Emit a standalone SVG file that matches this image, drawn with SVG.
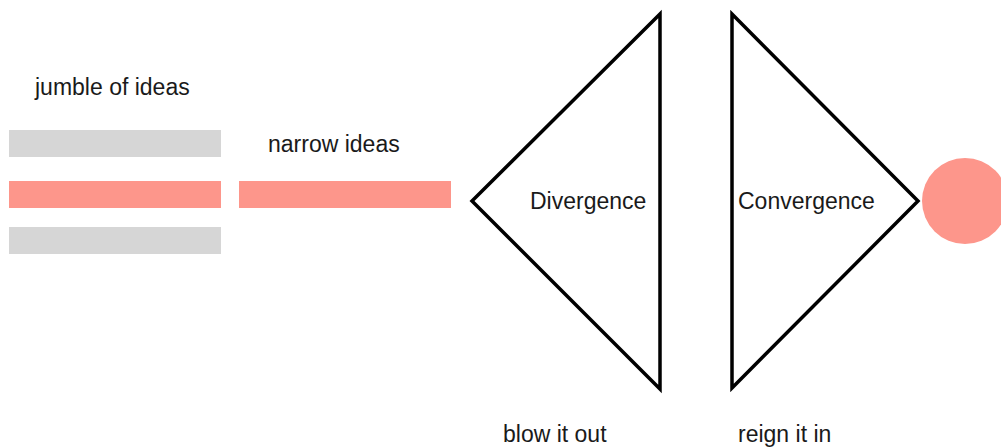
<svg xmlns="http://www.w3.org/2000/svg" width="1001" height="448" viewBox="0 0 1001 448">
<style>
text{font-family:"Liberation Sans",Arial,sans-serif;font-size:23px;fill:#1a1a1a}
.gray{fill:#d6d6d6}
.red{fill:#fd968b}
.tri{fill:none;stroke:#000;stroke-width:3.5;stroke-linejoin:miter}
</style>
<rect width="1001" height="448" fill="#fff"/>
<g id="jumble">
<text x="35" y="95">jumble of ideas</text>
<rect class="gray" x="9" y="130" width="212" height="27"/>
<rect class="red" x="9" y="181" width="212" height="27"/>
<rect class="gray" x="9" y="227" width="212" height="27"/>
</g>
<g id="narrow">
<text x="268" y="152">narrow ideas</text>
<rect class="red" x="239" y="181" width="212" height="27"/>
</g>
<g id="divergence">
<polygon class="tri" points="472,201 660,14 660,389"/>
<text x="530" y="209">Divergence</text>
<text x="503" y="442">blow it out</text>
</g>
<g id="convergence">
<polygon class="tri" points="918,201 732,14 732,388"/>
<text x="738" y="209">Convergence</text>
<text x="738" y="442">reign it in</text>
</g>
<g id="result">
<circle class="red" cx="965" cy="201" r="43"/>
</g>
<g id="connectors"></g>
</svg>
